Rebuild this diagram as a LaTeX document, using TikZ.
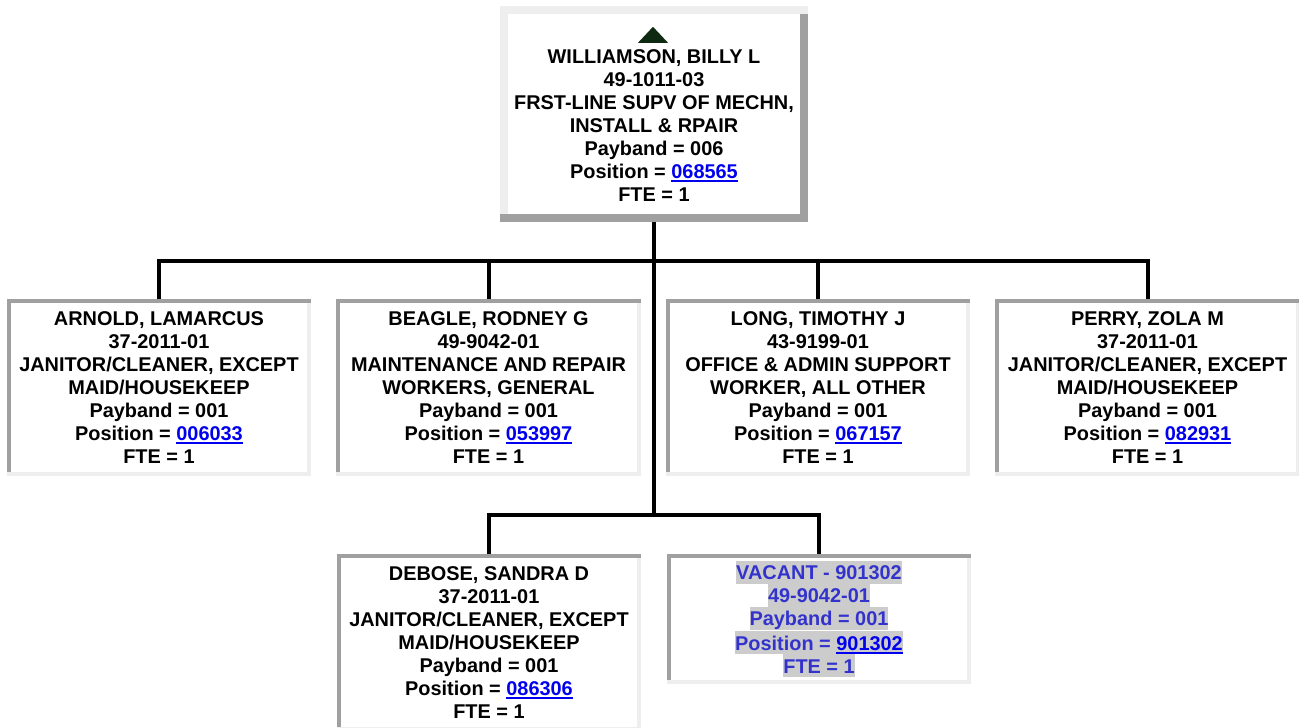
\documentclass[tikz,border=0pt]{standalone}
\usepackage{fontspec}
\setmainfont{Liberation Sans}
\usepackage{xcolor}
\usepackage{tikz}
\usetikzlibrary{calc}

\definecolor{linkblue}{HTML}{0000EE}
\definecolor{vacblue}{HTML}{3333CC}
\definecolor{vacbg}{HTML}{CCCCCC}
\definecolor{edgedark}{HTML}{A0A0A0}
\definecolor{edgelight}{HTML}{EEEEEE}
\definecolor{upgreen}{HTML}{0F2A12}
\setlength{\fboxsep}{0pt}

\newcommand{\poslink}[1]{{\color{linkblue}\setbox0=\hbox{#1}\rlap{\rule[-4pt]{\wd0}{2.2pt}}\box0}}
\newcommand{\vacline}[1]{\colorbox{vacbg}{\rule[-4pt]{0pt}{23pt}#1}}
% node, border width, top/left colour, bottom/right colour
\newcommand{\bevel}[4]{%
  \fill[#3] (#1.north west) rectangle ([yshift=-#2]#1.north east);
  \fill[#3] (#1.north west) rectangle ([xshift=#2,yshift=#2]#1.south west);
  \fill[#4] ([yshift=-#2]#1.north east) rectangle ([xshift=-#2]#1.south east);
  \fill[#4] (#1.south west) rectangle ([yshift=#2]#1.south east);
}

\begin{document}
\begin{tikzpicture}[x=1pt, y=1pt,
  card/.style={minimum width=304pt, minimum height=177pt, inner sep=0pt, align=center, font=\fontsize{19.9}{23}\selectfont\bfseries},
  topcard/.style={card, minimum width=308pt, minimum height=216pt},
  vaccard/.style={card, minimum height=130pt, text=vacblue},
  conn/.style={line width=4pt, black}
]
\useasboundingbox (0,0) rectangle (1299,-728);

\node[topcard] (boss) at (654,-114) {\rule{0pt}{13pt}\\WILLIAMSON, BILLY L\\49-1011-03\\FRST-LINE SUPV OF MECHN,\\INSTALL \& RPAIR\\Payband = 006\\Position = \poslink{068565}\\FTE = 1};
\fill[upgreen] ($(boss.north)+(-1,-21)$) -- ($(boss.north)+(-16,-37)$) -- ($(boss.north)+(14,-37)$) -- cycle;

\node[card] (arnold) at (159,-387.5) {ARNOLD, LAMARCUS\\37-2011-01\\JANITOR/CLEANER, EXCEPT\\MAID/HOUSEKEEP\\Payband = 001\\Position = \poslink{006033}\\FTE = 1};
\node[card] (beagle) at (488.5,-387.5) {BEAGLE, RODNEY G\\49-9042-01\\MAINTENANCE AND REPAIR\\WORKERS, GENERAL\\Payband = 001\\Position = \poslink{053997}\\FTE = 1};
\node[card] (long) at (818,-387.5) {LONG, TIMOTHY J\\43-9199-01\\OFFICE \& ADMIN SUPPORT\\WORKER, ALL OTHER\\Payband = 001\\Position = \poslink{067157}\\FTE = 1};
\node[card] (perry) at (1147.5,-387.5) {PERRY, ZOLA M\\37-2011-01\\JANITOR/CLEANER, EXCEPT\\MAID/HOUSEKEEP\\Payband = 001\\Position = \poslink{082931}\\FTE = 1};

\node[card] (debose) at (489,-642.5) {DEBOSE, SANDRA D\\37-2011-01\\JANITOR/CLEANER, EXCEPT\\MAID/HOUSEKEEP\\Payband = 001\\Position = \poslink{086306}\\FTE = 1};
\node[vaccard] (vacant) at (819,-619) {\vacline{VACANT - 901302}\\\vacline{49-9042-01}\\\vacline{Payband = 001}\\\vacline{Position = \poslink{901302}}\\\vacline{FTE = 1}};

% borders
\bevel{boss}{8pt}{edgelight}{edgedark}
\foreach \n in {arnold,beagle,long,perry,debose,vacant}
  {\bevel{\n}{4pt}{edgedark}{edgelight}}

% reporting lines
\coordinate (bus1) at (654,-261);
\coordinate (bus2) at (654,-515);
\draw[conn] (boss.south) -- (bus2);
\draw[conn] (arnold.north) |- (bus1);
\draw[conn] (perry.north) |- (bus1);
\draw[conn] (beagle.north) -- (beagle.north |- bus1);
\draw[conn] (long.north) -- (long.north |- bus1);
\draw[conn] (debose.north) |- (bus2);
\draw[conn] (vacant.north) |- (bus2);

\end{tikzpicture}
\end{document}
